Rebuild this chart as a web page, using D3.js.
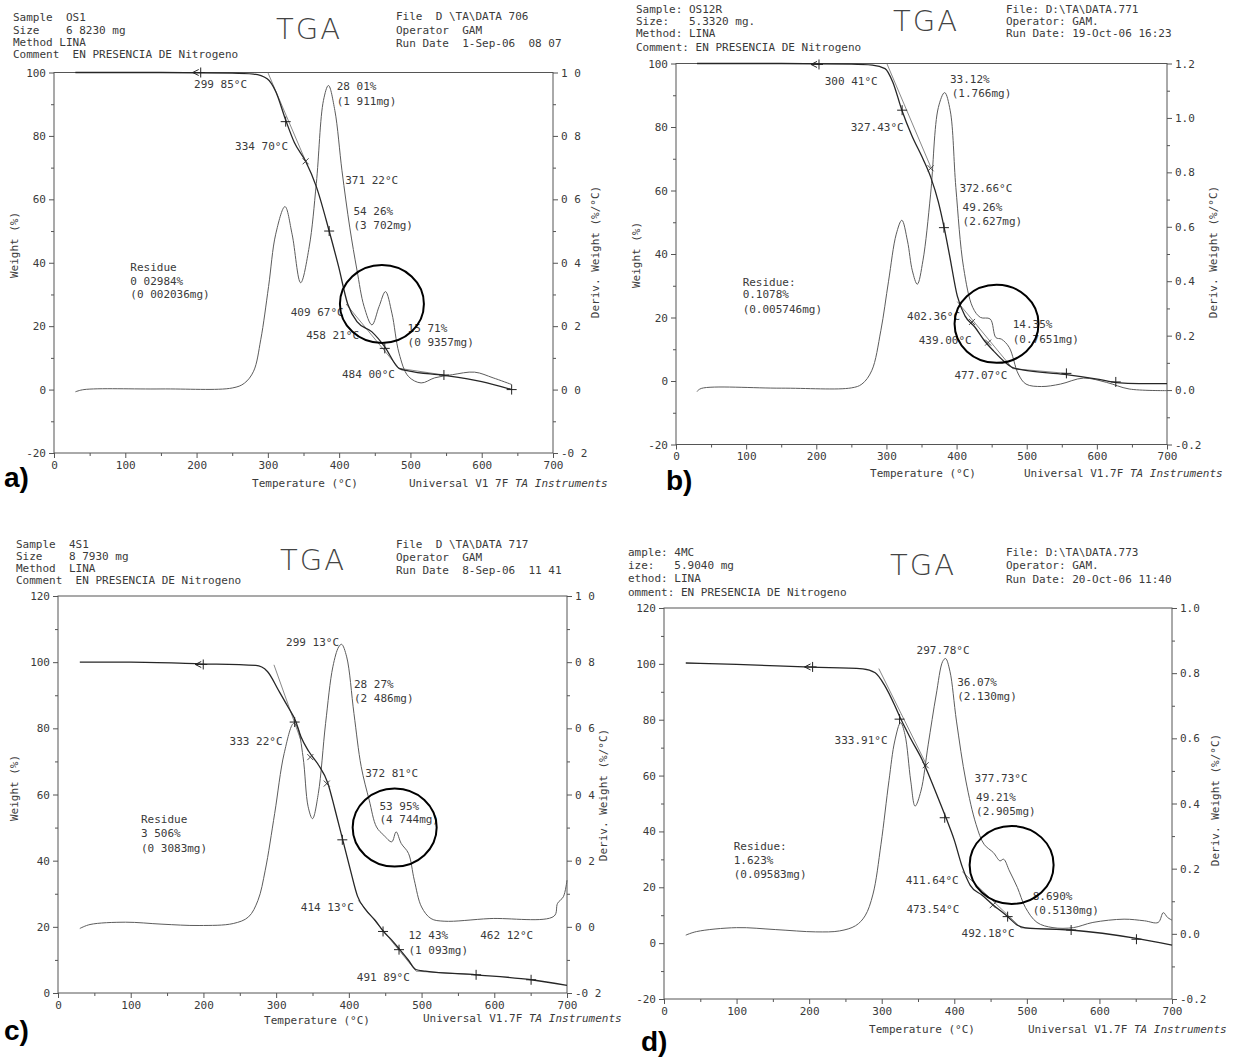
<!DOCTYPE html>
<html>
<head>
<meta charset="utf-8">
<script src="https://cdn.jsdelivr.net/npm/d3@7"></script>
<style>
body { margin: 0; background: #fff; }
svg { display: block; }
text { font-family: "DejaVu Sans Mono", monospace; font-size: 11px; fill: #3a3a3a; white-space: pre; }
.ax text { font-family: "DejaVu Sans Mono", monospace; font-size: 11px; fill: #3a3a3a; }
.ax line { stroke: #555; }
.tga { font-family: "DejaVu Sans", sans-serif; font-weight: 200; font-size: 29px; fill: #444; letter-spacing: 2px; }
.plab { font-family: "Liberation Sans", Arial, sans-serif; font-weight: bold; font-size: 28px; fill: #000; }
</style>
</head>
<body>
<svg width="1235" height="1057"></svg>
<script>
// temperature axis (°C) and tick labels
const tempTicks = [0, 100, 200, 300, 400, 500, 600, 700];
const leftTicksAB = [-20, 0, 20, 40, 60, 80, 100];
const leftTicksC = [0, 20, 40, 60, 80, 100, 120];
const leftTicksD = [-20, 0, 20, 40, 60, 80, 100, 120];
const rightTicksACD = [-0.2, 0, 0.2, 0.4, 0.6, 0.8, 1.0];
const rightTicksB = [-0.2, 0, 0.2, 0.4, 0.6, 0.8, 1.0, 1.2];

// a) OS1  [T, weight %]  and  [T, deriv %/°C]
const aWeight = [[30,100],[150,100],[250,99.8],[280,99.5],[299,98],[311,94],[325,85],[337,78],[353,72],[368,64],[386,50],[399,39],[412,27],[425,21.4],[446,18.2],[464,13.5],[484,6.7],[497,5.9],[547,4.5],[600,2.5],[642,0]];
const aDeriv = [[30,-0.007],[42,0],[150,0.002],[250,0.005],[267,0.02],[280,0.058],[290,0.157],[301,0.325],[311,0.49],[324,0.577],[334,0.49],[346,0.337],[358,0.45],[368,0.65],[378,0.912],[385,0.959],[394,0.88],[404,0.69],[415,0.51],[425,0.377],[435,0.262],[446,0.204],[456,0.262],[465,0.309],[474,0.241],[484,0.115],[497,0.042],[515,0.021],[534,0.037],[559,0.047],[590,0.055],[616,0.037],[642,0.016]];
const aTangents = [[300,100,355,71],[409.7,27,484,6.7],[484,6.7,547,4.6]];
const aCrosses = [[325,84.5],[386,50],[464,13],[547,4.6],[642,0]];
const aMarks = [[353,72]];
const aArrow = [203,100];
const aNotes = [['299 85°C',196.5,96.3],['28 01%',396.6,95.6],['(1 911mg)',396.6,90.9],['334 70°C',254,76.7],['371 22°C',408.5,65.9],['54 26%',420,56.3],['(3 702mg)',420,52],['409 67°C',332,24.5],['458 21°C',353.7,17.2],['15 71%',496,19.5],['(0 9357mg)',496,15.1],['484 00°C',404,4.8],['Residue',107,38.5],['0 02984%',107,34.3],['(0 002036mg)',107,30]];
const aCircle = [460,27];

// b) OS12R
const bWeight = [[30,100],[150,100],[250,99.8],[280,99.5],[298,98.4],[309,94.2],[322,85.3],[336,77.4],[352,70],[363,64.3],[374,56.4],[382,48.6],[390,39.6],[401,26.8],[412,20.5],[426,17],[440,12.6],[453,9.4],[467,6.3],[480,4.2],[494,3.5],[554,2.1],[603,0.5],[628,-0.5],[660,-0.8],[700,-0.8]];
const bDeriv = [[30,-0.005],[36,0.006],[150,0.007],[250,0.008],[265,0.022],[279,0.071],[292,0.218],[303,0.40],[314,0.573],[322,0.624],[330,0.548],[337,0.438],[344,0.389],[352,0.475],[363,0.72],[374,1.038],[383,1.093],[391,1.026],[399,0.744],[410,0.45],[423,0.304],[434,0.267],[448,0.261],[456,0.193],[464,0.187],[475,0.157],[488,0.059],[499,0.022],[521,0.013],[548,0.022],[581,0.044],[614,0.028],[646,0.004],[700,-0.002]];
const bTangents = [[300.6,100,363,67.5],[401,25,480,3.9],[480,3.9,556.6,2.4]];
const bCrosses = [[322.4,85.3],[382,48.3],[556.6,2.4],[627,-0.3]];
const bMarks = [[363,67],[422,18.6],[445,12.1]];
const bArrow = [201,99.7];
const bNotes = [['300 41°C',212,94.4],['33.12%',390.5,95],['(1.766mg)',393,90.6],['327.43°C',249,80],['372.66°C',404,60.6],['49.26%',408.5,54.9],['(2.627mg)',408.5,50.4],['Residue:',95,31.2],['0.1078%',95,27.2],['(0.005746mg)',95,22.6],['402.36°C',329.5,20.4],['439.00°C',346,12.9],['14.35%',480,17.8],['(0.7651mg)',480,13.2],['477.07°C',397,2.0]];
const bCircle = [457,18];

// c) 4S1
const cWeight = [[30,100],[100,100],[194,99.5],[272,99],[288,97.2],[303,91.6],[316,86.6],[327,82.1],[334,77.5],[345,73],[358,69],[371,63.5],[381,55.4],[391,46.8],[402,37.3],[412,29.2],[423,25.2],[436,22],[448,18.5],[459,16],[469,13.4],[482,9.9],[492,7.1],[505,6.6],[575,5.5],[651,4],[700,2.3]];
const cDeriv = [[30,-0.005],[44,0.007],[93,0.014],[143,0.008],[194,0.004],[241,0.01],[262,0.03],[275,0.08],[285,0.171],[298,0.343],[311,0.524],[324,0.615],[329,0.605],[337,0.514],[344,0.363],[350,0.327],[358,0.403],[368,0.615],[378,0.786],[386,0.846],[390,0.854],[397,0.816],[407,0.645],[417,0.484],[428,0.383],[438,0.302],[448,0.277],[459,0.257],[465,0.287],[472,0.252],[482,0.222],[490,0.141],[500,0.06],[513,0.025],[531,0.017],[594,0.025],[682,0.032],[687,0.071],[695,0.091],[700,0.141]];
const cTangents = [[297,99.2,334,76.4],[413,28,492.5,6.6],[492.5,6.6,575,5.5]];
const cCrosses = [[325.5,81.9],[391,46.3],[447,18.6],[469,13.1],[575,5.5],[650.6,4]];
const cMarks = [[347,71.3],[369.6,63.3]];
const cArrow = [197,99.3];
const cNotes = [['299 13°C',313.6,106.1],['28 27%',407,93.3],['(2 486mg)',407,89],['333 22°C',236,76],['372 81°C',422.5,66.5],['53 95%',442,56.4],['(4 744mg)',442,52.4],['Residue',114,52.6],['3 506%',114,48.2],['(0 3083mg)',114,43.8],['414 13°C',334,26],['12 43%',482,17.4],['(1 093mg)',482,13.1],['462 12°C',580.6,17.4],['491 89°C',411,4.8]];
const cCircle = [463,50];

// d) 4MC
const dWeight = [[30,100.3],[100,99.8],[203,98.8],[274,98.2],[291,96.8],[304,92.3],[318,85.1],[326,80.4],[340,73.2],[356,65.5],[367,58.9],[378,51.8],[389,44.6],[400,36.9],[411,27.3],[422,20.7],[438,17.2],[454,13.6],[474,9.4],[487,6.4],[498,5.5],[561,4.7],[651,1.7],[700,-0.7]];
const dDeriv = [[30,-0.004],[45,0.007],[100,0.019],[154,0.013],[209,0.006],[242,0.009],[264,0.025],[277,0.055],[288,0.122],[299,0.275],[310,0.47],[318,0.592],[326,0.648],[332,0.612],[340,0.469],[346,0.392],[354,0.438],[364,0.58],[375,0.733],[384,0.836],[388,0.845],[394,0.806],[403,0.653],[416,0.469],[430,0.336],[441,0.275],[454,0.249],[463,0.224],[468,0.229],[476,0.193],[487,0.142],[498,0.081],[514,0.035],[536,0.019],[564,0.019],[591,0.035],[634,0.045],[662,0.04],[681,0.035],[688,0.065],[694,0.05],[700,0.042]];
const dTangents = [[296,98.3,362,63.7],[411,25.6,492,5.5],[492,5.5,561,4.7]];
const dCrosses = [[324.6,80.2],[386.8,44.9],[473.5,9.5],[561,4.7],[651,1.4]];
const dMarks = [[360.6,63.7],[453,13.6]];
const dArrow = [202,98.9];
const dNotes = [['297.78°C',348,104.9],['36.07%',404,93.5],['(2.130mg)',404,88.5],['333.91°C',235,72.7],['377.73°C',428,59.2],['49.21%',430,52.4],['(2.905mg)',430,47.3],['Residue:',96,34.9],['1.623%',96,29.7],['(0.09583mg)',96,24.6],['411.64°C',333,22.6],['473.54°C',334,12.2],['8.690%',508,16.9],['(0.5130mg)',508,11.8],['492.18°C',410,3.5]];
const dCircle = [479,28];

const svg = d3.select('svg');

// plotter prints a plain hyphen for minus
const fmtInt = d => String(d);
const fmtDot = d => d3.format('.1f')(d).replace('\u2212', '-');
const fmtSpace = d => fmtDot(d).replace('.', ' ');

const panels = [
  { left: 54, right: 553, top: 72.5, bottom: 453, leftTicks: leftTicksAB, rightTicks: rightTicksACD,
    weight: aWeight, deriv: aDeriv, tangents: aTangents, crosses: aCrosses, marks: aMarks, arrow: aArrow,
    notes: aNotes, circle: aCircle, rfmt: fmtSpace,
    hdrL: ['Sample  OS1', 'Size    6 8230 mg', 'Method LINA', 'Comment  EN PRESENCIA DE Nitrogeno'], hdrLx: 13, hdrLy: [17, 30, 42, 54],
    hdrR: ['File  D \\TA\\DATA 706', 'Operator  GAM', 'Run Date  1-Sep-06  08 07'], hdrRx: 396, hdrRy: [16, 30, 43],
    tga: [309, 29], label: ['a)', 4, 487], ytitle: [14, 245], rtitle: [595, 252],
    xtitle: [305, 483], univ: [409, 483, 'Universal V1 7F '] },
  { left: 676, right: 1167, top: 63.5, bottom: 444.5, leftTicks: leftTicksAB, rightTicks: rightTicksB,
    weight: bWeight, deriv: bDeriv, tangents: bTangents, crosses: bCrosses, marks: bMarks, arrow: bArrow,
    notes: bNotes, circle: bCircle, rfmt: fmtDot,
    hdrL: ['Sample: OS12R', 'Size:   5.3320 mg.', 'Method: LINA', 'Comment: EN PRESENCIA DE Nitrogeno'], hdrLx: 636, hdrLy: [9, 21, 33, 47],
    hdrR: ['File: D:\\TA\\DATA.771', 'Operator: GAM.', 'Run Date: 19-Oct-06 16:23'], hdrRx: 1006, hdrRy: [9, 21, 33],
    tga: [926, 21], label: ['b)', 666, 490], ytitle: [636, 255], rtitle: [1213, 252],
    xtitle: [923, 473], univ: [1024, 473, 'Universal V1.7F '] },
  { left: 58, right: 567, top: 596, bottom: 993, leftTicks: leftTicksC, rightTicks: rightTicksACD,
    weight: cWeight, deriv: cDeriv, tangents: cTangents, crosses: cCrosses, marks: cMarks, arrow: cArrow,
    notes: cNotes, circle: cCircle, rfmt: fmtSpace,
    hdrL: ['Sample  4S1', 'Size    8 7930 mg', 'Method  LINA', 'Comment  EN PRESENCIA DE Nitrogeno'], hdrLx: 16, hdrLy: [544, 556, 568, 580],
    hdrR: ['File  D \\TA\\DATA 717', 'Operator  GAM', 'Run Date  8-Sep-06  11 41'], hdrRx: 396, hdrRy: [544, 557, 570],
    tga: [313, 560], label: ['c)', 4, 1040], ytitle: [14, 788], rtitle: [603, 795],
    xtitle: [317, 1020], univ: [423, 1018, 'Universal V1.7F '] },
  { left: 664, right: 1172, top: 608, bottom: 999, leftTicks: leftTicksD, rightTicks: rightTicksACD,
    weight: dWeight, deriv: dDeriv, tangents: dTangents, crosses: dCrosses, marks: dMarks, arrow: dArrow,
    notes: dNotes, circle: dCircle, rfmt: fmtDot,
    hdrL: ['ample: 4MC', 'ize:   5.9040 mg', 'ethod: LINA', 'omment: EN PRESENCIA DE Nitrogeno'], hdrLx: 628, hdrLy: [552, 565, 578, 592],
    hdrR: ['File: D:\\TA\\DATA.773', 'Operator: GAM.', 'Run Date: 20-Oct-06 11:40'], hdrRx: 1006, hdrRy: [552, 565, 579],
    tga: [923, 565], label: ['d)', 641, 1051], ytitle: null, rtitle: [1215, 800],
    xtitle: [922, 1029], univ: [1028, 1029, 'Universal V1.7F '] }
];

function drawPanel(p) {
  const g = svg.append('g');
  const x = d3.scaleLinear().domain([0, 700]).range([p.left, p.right]);
  const yL = d3.scaleLinear().domain([p.leftTicks[0], p.leftTicks[p.leftTicks.length - 1]]).range([p.bottom, p.top]);
  const yR = d3.scaleLinear().domain([p.rightTicks[0], p.rightTicks[p.rightTicks.length - 1]]).range([p.bottom, p.top]);

  // minor ticks
  const minor = (axis, tr) => g.append('g').attr('class', 'ax').attr('transform', tr)
    .call(axis.tickSize(3).tickFormat(''))
    .call(s => s.select('.domain').remove());
  minor(d3.axisBottom(x).tickValues(d3.range(50, 700, 100)), `translate(0,${p.bottom})`);
  minor(d3.axisLeft(yL).tickValues(p.leftTicks.slice(1).map(v => v - 10)), `translate(${p.left},0)`);
  minor(d3.axisRight(yR).tickValues(p.rightTicks.slice(1).map(v => v - 0.1)), `translate(${p.right},0)`);

  // major axes
  const major = (axis, tr) => g.append('g').attr('class', 'ax').attr('transform', tr)
    .call(axis.tickSize(5).tickPadding(3))
    .call(s => s.select('.domain').remove())
    .attr('font-family', null).attr('font-size', null);
  major(d3.axisBottom(x).tickValues(tempTicks).tickFormat(fmtInt), `translate(0,${p.bottom})`);
  major(d3.axisLeft(yL).tickValues(p.leftTicks).tickFormat(fmtInt), `translate(${p.left},0)`);
  major(d3.axisRight(yR).tickValues(p.rightTicks).tickFormat(p.rfmt), `translate(${p.right},0)`);

  // frame
  g.append('rect')
    .attr('x', p.left).attr('y', p.top)
    .attr('width', p.right - p.left).attr('height', p.bottom - p.top)
    .attr('fill', 'none').attr('stroke', '#555').attr('stroke-width', 1);

  // tangent construction lines
  g.selectAll('.tan').data(p.tangents).enter().append('line')
    .attr('x1', d => x(d[0])).attr('y1', d => yL(d[1]))
    .attr('x2', d => x(d[2])).attr('y2', d => yL(d[3]))
    .attr('stroke', '#6a6a6a').attr('stroke-width', 0.8);

  // derivative curve
  g.append('path').datum(p.deriv)
    .attr('d', d3.line().x(d => x(d[0])).y(d => yR(d[1])).curve(d3.curveCatmullRom.alpha(0.5)))
    .attr('fill', 'none').attr('stroke', '#5c5c5c').attr('stroke-width', 1);

  // weight curve
  g.append('path').datum(p.weight)
    .attr('d', d3.line().x(d => x(d[0])).y(d => yL(d[1])).curve(d3.curveMonotoneX))
    .attr('fill', 'none').attr('stroke', '#262626').attr('stroke-width', 1.3);

  // cursor crosses
  g.selectAll('.cr').data(p.crosses).enter().append('path')
    .attr('transform', d => `translate(${x(d[0])},${yL(d[1])})`)
    .attr('d', 'M-5,0H5M0,-5V5').attr('stroke', '#222').attr('stroke-width', 1);
  g.selectAll('.mk').data(p.marks).enter().append('path')
    .attr('transform', d => `translate(${x(d[0])},${yL(d[1])})`)
    .attr('d', 'M-3,-3L3,3M-3,3L3,-3').attr('stroke', '#333').attr('stroke-width', 0.9);
  g.append('path')
    .attr('transform', `translate(${x(p.arrow[0])},${yL(p.arrow[1])})`)
    .attr('d', 'M-6,0H6M-6,0L0,-3M-6,0L0,3M2,-5V5').attr('fill', 'none').attr('stroke', '#222').attr('stroke-width', 1);

  // annotations
  g.selectAll('.note').data(p.notes).enter().append('text')
    .attr('x', d => x(d[1])).attr('y', d => yL(d[2])).attr('dy', '0.35em')
    .text(d => d[0]);

  // hand-drawn circle
  g.append('ellipse')
    .attr('cx', x(p.circle[0])).attr('cy', yL(p.circle[1]))
    .attr('rx', 42).attr('ry', 39)
    .attr('fill', 'none').attr('stroke', '#000').attr('stroke-width', 2);

  // header block
  p.hdrL.forEach((t, i) => g.append('text').attr('x', p.hdrLx).attr('y', p.hdrLy[i]).attr('dy', '0.35em').text(t));
  p.hdrR.forEach((t, i) => g.append('text').attr('x', p.hdrRx).attr('y', p.hdrRy[i]).attr('dy', '0.35em').text(t));
  g.append('text').attr('class', 'tga').attr('x', p.tga[0]).attr('y', p.tga[1]).attr('dy', '0.36em')
    .attr('text-anchor', 'middle').text('TGA');

  // axis titles
  if (p.ytitle) {
    g.append('text').attr('transform', `translate(${p.ytitle[0]},${p.ytitle[1]}) rotate(-90)`)
      .attr('text-anchor', 'middle').attr('dy', '0.35em').text('Weight (%)');
  }
  g.append('text').attr('transform', `translate(${p.rtitle[0]},${p.rtitle[1]}) rotate(-90)`)
    .attr('text-anchor', 'middle').attr('dy', '0.35em').text('Deriv. Weight (%/°C)');
  g.append('text').attr('x', p.xtitle[0]).attr('y', p.xtitle[1]).attr('dy', '0.35em')
    .attr('text-anchor', 'middle').text('Temperature (°C)');
  const u = g.append('text').attr('x', p.univ[0]).attr('y', p.univ[1]).attr('dy', '0.35em');
  u.append('tspan').text(p.univ[2]);
  u.append('tspan').attr('font-style', 'italic').text('TA Instruments');

  svg.append('text').attr('class', 'plab').attr('x', p.label[1]).attr('y', p.label[2]).text(p.label[0]);
}

panels.forEach(drawPanel);
</script>
</body>
</html>
